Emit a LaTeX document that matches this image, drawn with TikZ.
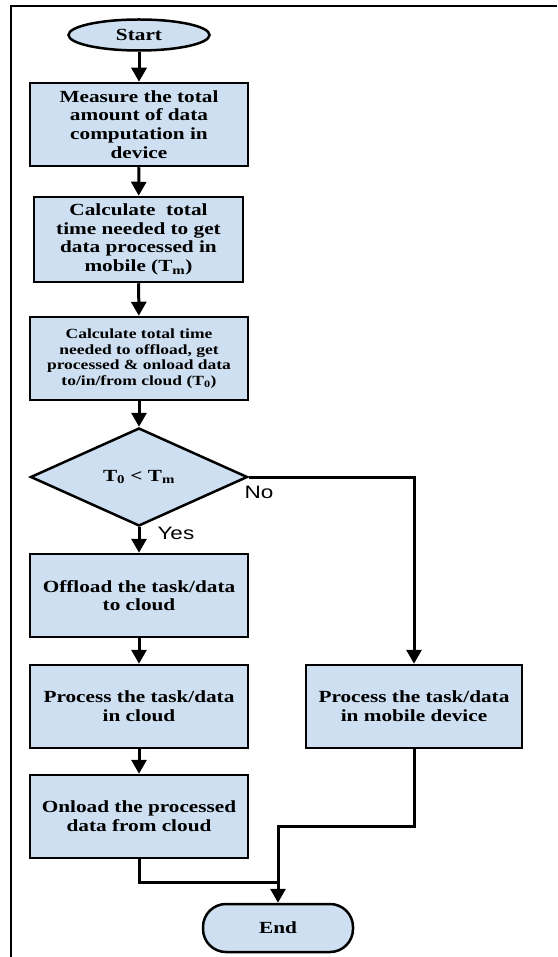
\documentclass[tikz,border=0pt]{standalone}
\usepackage{fontspec}
\setmainfont{Liberation Serif}[FakeStretch=1.25]
\newfontfamily\arialfont{Liberation Sans}[FakeStretch=1.25]
\usetikzlibrary{shapes.geometric,arrows.meta}
\definecolor{boxblue}{RGB}{205,223,240}
\tikzset{
  box/.style={draw=black,fill=boxblue,line width=2.5pt,align=center,inner sep=2pt,
    font=\bfseries\fontsize{17}{18.7}\selectfont},
  smallbox/.style={box,font=\bfseries\fontsize{14}{15.6}\selectfont},
  conn/.style={line width=3pt,-{Triangle[width=15pt,length=14pt]}},
  plain/.style={line width=3pt},
  lbl/.style={font=\arialfont\fontsize{18}{20}\selectfont}
}
\begin{document}
\begin{tikzpicture}[x=1pt,y=-1pt]
\useasboundingbox (0,0) rectangle (557,957);
\draw[line width=2pt] (11,957) -- (11,6) -- (557,6);
\node[box,ellipse,minimum width=141pt,minimum height=31pt,inner sep=0pt] (start) at (139,35) {Start};
\node[box,minimum width=218pt,minimum height=83pt] (m) at (139,124.5) {Measure the total\\amount of data\\computation in\\device};
\node[box,minimum width=209pt,minimum height=85pt] (c1) at (138.5,239.5) {Calculate\ \ total\\time needed to get\\data processed in\\mobile (T\textsubscript{m})};
\node[smallbox,minimum width=218pt,minimum height=83pt] (c2) at (139,358.5) {Calculate total time\\needed to offload, get\\processed \& onload data\\to/in/from cloud (T\textsubscript{0})};
\node[box,diamond,minimum width=217pt,minimum height=98pt,inner sep=0pt,aspect=2.2] (d) at (139,477) {T\textsubscript{0} < T\textsubscript{m}};
\node[box,minimum width=218pt,minimum height=83pt] (off) at (139,595.5) {Offload the task/data\\to cloud};
\node[box,minimum width=218pt,minimum height=83pt] (pc) at (139,706.5) {Process the task/data\\in cloud};
\node[box,minimum width=216pt,minimum height=83pt] (pm) at (414,706.5) {Process the task/data\\in mobile device};
\node[box,minimum width=218pt,minimum height=83pt] (on) at (139,816.5) {Onload the processed\\data from cloud};
\node[box,rounded corners=23pt,minimum width=150pt,minimum height=48pt] (end) at (278,928) {End};
\coordinate (j1) at (278,882);
\draw[conn] (start) -- (m);
\draw[conn] (m) -- (c1);
\draw[conn] (c1) -- (c2);
\draw[conn] (c2) -- (d);
\draw[conn] (d) -- (off);
\draw[conn] (off) -- (pc);
\draw[conn] (pc) -- (on);
\draw[conn] (d.east) -| (pm.north);
\draw[plain] (on.south) |- (j1);
\draw[conn] (pm.south) |- (278,826) -- (end.north);
\node[lbl,anchor=west] at (241,492) {No};
\node[lbl,anchor=west] at (154,533) {Yes};
\end{tikzpicture}
\end{document}
